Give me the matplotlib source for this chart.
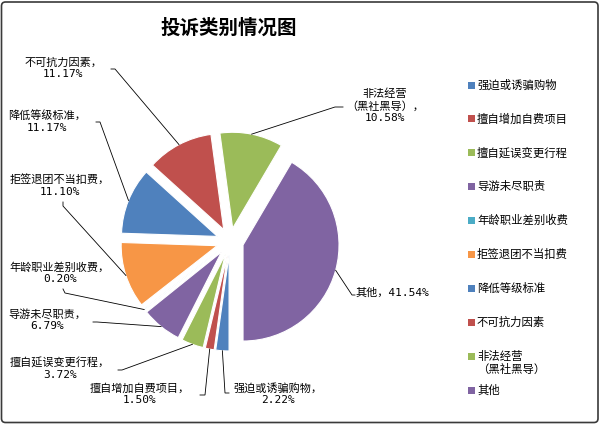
import matplotlib.pyplot as plt
import numpy as np
from matplotlib.patches import FancyBboxPatch, Rectangle

title = "投诉类别情况图"
categories = [
    "强迫或诱骗购物",
    "擅自增加自费项目",
    "擅自延误变更行程",
    "导游未尽职责",
    "年龄职业差别收费",
    "拒签退团不当扣费",
    "降低等级标准",
    "不可抗力因素",
    "非法经营\n（黑社黑导）",
    "其他",
]
shares = [2.22, 1.50, 3.72, 6.79, 0.20, 11.10, 11.17, 11.17, 10.58, 41.54]
colors = [
    "#4F81BD", "#C0504D", "#9BBB59", "#8064A2", "#4BACC6",
    "#F79646", "#4F81BD", "#C0504D", "#9BBB59", "#8064A2",
]

W, H = 600, 424
CJK = ["Noto Sans CJK SC", "DejaVu Sans"]
MIXED = ["DejaVu Sans Mono", "Noto Sans CJK SC"]

# label layout in pixels measured from the top-left: text centre, leader bend points
label_xy = [
    (278, 394), (140, 394), (60, 369), (47, 320), (60, 273),
    (60, 186), (47, 121.5), (63, 68.5), (385, 106), (355, 293),
]
leader_pts = [
    [(225, 393), (229, 393)],
    [(205, 395), (200, 395)],
    [(122, 370), (118, 370)],
    [(97, 322), (93, 322)],
    [(65, 293), (63, 289)],
    [(63, 206), (63, 202)],
    [(100, 122), (96, 122)],
    [(115, 69), (111, 69)],
    [(335, 107), (343, 107)],
    [(352, 295), (355, 295)],
]


def draw_pie(ax):
    wedges, _ = ax.pie(
        shares,
        explode=[13.5] * len(shares),
        startangle=-90,
        counterclock=False,
        colors=colors,
        center=(230, H - 241.5),
        radius=96,
        wedgeprops=dict(edgecolor="white", linewidth=0.8),
    )
    return wedges


def draw_labels(ax, wedges):
    for w, name, val, (tx, ty), pts in zip(wedges, categories, shares, label_xy, leader_pts):
        mid = np.deg2rad((w.theta1 + w.theta2) / 2)
        cx, cy = w.center
        xs = [cx + w.r * np.cos(mid)] + [p[0] for p in pts]
        ys = [cy + w.r * np.sin(mid)] + [H - p[1] for p in pts]
        ax.plot(xs, ys, color="black", lw=0.6, solid_joinstyle="miter")

        if name == "其他":
            ax.text(tx, H - ty, f"{name}，{val:.2f}%", ha="left", va="center",
                    fontsize=8, family=MIXED)
        else:
            ax.text(tx, H - ty, f"{name}，\n{val:.2f}%", ha="center", va="center",
                    multialignment="center", fontsize=8, family=MIXED,
                    linespacing=1.2)


def draw_legend(ax):
    for i, (name, c) in enumerate(zip(categories, colors)):
        y = 85 + 33.9 * i
        ax.add_patch(Rectangle((468, H - y - 3.5), 7, 7, facecolor=c, edgecolor="none"))
        n = name.count("\n")
        ax.text(477, H - y - n * 13.3 / 2, name, ha="left", va="center",
                fontsize=8.2, family=CJK, linespacing=1.2)


if __name__ == "__main__":
    fig = plt.figure(figsize=(W / 100, H / 100), dpi=100)
    ax = fig.add_axes([0, 0, 1, 1])

    wedges = draw_pie(ax)
    ax.set_xlim(0, W)
    ax.set_ylim(0, H)
    ax.set_aspect("auto")
    ax.axis("off")

    draw_labels(ax, wedges)
    draw_legend(ax)

    ax.text(229, H - 28, title, ha="center", va="center", fontsize=14,
            fontweight="bold", family=CJK)

    ax.add_patch(FancyBboxPatch((1.5, 1.5), W - 3.5, H - 3.5,
                                boxstyle="round,pad=0,rounding_size=4",
                                fill=False, edgecolor="#3a3a3a", lw=1.2))

    fig.savefig("out.png", dpi=100)
